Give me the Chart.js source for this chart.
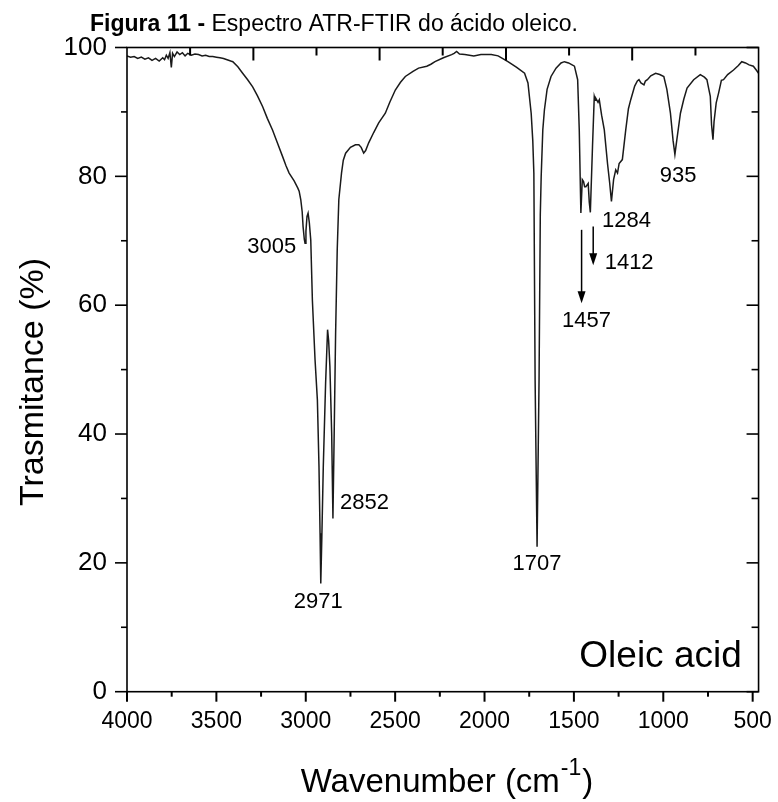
<!DOCTYPE html>
<html>
<head>
<meta charset="utf-8">
<script src="https://cdn.jsdelivr.net/npm/chart.js@4.4.1/dist/chart.umd.min.js"></script>
<style>
    html, body { margin: 0; padding: 0; background: #fff; }
    #wrap { width: 778px; height: 802px; }
</style>
</head>
<body>
<div id="wrap"><canvas id="ftir" width="778" height="802"></canvas></div>
<script>
// Spectrum (cm-1 / %T)
const wavenumbers = [
    4000, 3980, 3960, 3940, 3920, 3900, 3880, 3860, 3840, 3820, 3800, 3790, 3780, 3770, 3760, 3752, 3745, 3735,
    3720, 3705, 3690, 3675, 3660, 3640, 3620, 3600, 3580, 3560, 3540, 3520, 3500, 3480, 3460, 3440, 3420, 3408,
    3380, 3353, 3325, 3297, 3270, 3241, 3215, 3186, 3160, 3130, 3110, 3093, 3065, 3045, 3037, 3028, 3020, 3015,
    3008, 3004, 2999, 2993, 2987, 2980, 2972, 2963, 2948, 2935, 2926, 2920, 2916, 2910, 2902, 2889, 2878, 2872,
    2865, 2855, 2848, 2841, 2833, 2824, 2815, 2800, 2790, 2777, 2750, 2722, 2703, 2690, 2676, 2665, 2648, 2620,
    2592, 2555, 2530, 2499, 2470, 2443, 2400, 2369, 2323, 2300, 2277, 2230, 2184, 2170, 2156, 2140, 2110, 2060,
    2020, 1962, 1924, 1900, 1869, 1820, 1776, 1757, 1739, 1730, 1724, 1717, 1706, 1695, 1688, 1683, 1674, 1665,
    1650, 1628, 1600, 1572, 1553, 1530, 1510, 1497, 1479, 1470, 1461, 1453, 1446, 1440, 1433, 1420, 1414, 1408,
    1396, 1386, 1380, 1377, 1365, 1358, 1345, 1330, 1312, 1300, 1290, 1278, 1266, 1256, 1247, 1229, 1210, 1195,
    1182, 1160, 1145, 1136, 1125, 1108, 1100, 1089, 1070, 1043, 1020, 997, 980, 960, 945, 935, 925, 904,
    885, 867, 830, 793, 770, 756, 745, 737, 730, 722, 716, 704, 690, 675, 663, 640, 607, 580,
    561, 540, 520, 496, 480, 467
];
const transmittance = [
    98.7, 98.5, 98.6, 98.3, 98.5, 98.2, 98.4, 98.0, 98.3, 97.9, 98.4, 98.1, 98.8, 98.3, 99.2, 96.9, 99.1, 98.6,
    99.3, 98.9, 99.2, 98.7, 99.1, 98.8, 99.0, 98.9, 98.7, 98.8, 98.6, 98.6, 98.5, 98.4, 98.3, 98.1, 97.9, 97.8,
    97.0, 96.0, 95.0, 93.9, 92.5, 90.8, 89.0, 87.2, 85.3, 83.1, 81.6, 80.5, 79.3, 78.2, 77.7, 76.4, 74.5, 72.2,
    70.2, 69.6, 71.5, 73.8, 74.3, 72.8, 70.1, 60.8, 51.5, 45.3, 34.9, 24.6, 16.8, 24.0, 34.9, 47.9, 56.2, 54.5,
    50.5, 40.1, 26.9, 40.1, 55.7, 68.6, 76.4, 80.5, 82.5, 83.6, 84.5, 84.9, 84.9, 84.5, 83.6, 84.0, 85.2, 86.8,
    88.3, 89.8, 91.5, 93.4, 94.6, 95.5, 96.3, 96.8, 97.1, 97.4, 97.8, 98.4, 98.9, 99.1, 99.4, 99.0, 98.9, 98.7,
    98.9, 98.9, 98.7, 98.3, 97.8, 96.9, 96.0, 94.5, 89.8, 85.5, 80.5, 48.4, 22.5, 48.4, 74.0, 80.0, 87.2, 90.3,
    93.5, 95.5, 96.8, 97.6, 97.8, 97.6, 97.3, 97.1, 95.0, 87.2, 74.3, 79.5, 79.2, 78.4, 78.4, 78.9, 76.0, 74.4,
    84.6, 92.4, 91.8, 92.1, 91.5, 91.9, 89.5, 87.2, 82.0, 79.0, 76.1, 79.5, 81.0, 80.5, 82.0, 82.6, 87.2, 90.5,
    91.9, 94.0, 94.8, 95.0, 94.5, 94.2, 94.8, 95.0, 95.6, 96.0, 95.8, 95.5, 93.5, 89.8, 85.5, 83.4, 85.5, 89.8,
    92.0, 93.7, 95.0, 95.8, 95.4, 95.0, 93.5, 92.4, 88.0, 85.7, 88.5, 91.4, 93.0, 94.9, 95.0, 95.8, 96.5, 97.2,
    97.8, 97.6, 97.3, 97.1, 96.5, 96.0
];

// Axes
const xTicks = [4000, 3750, 3500, 3250, 3000, 2750, 2500, 2250, 2000, 1750, 1500, 1250, 1000, 750, 500];
const xTickLabels = [4000, 3500, 3000, 2500, 2000, 1500, 1000, 500];
const yTicks = [0, 10, 20, 30, 40, 50, 60, 70, 80, 90, 100];
const yTickLabels = [0, 20, 40, 60, 80, 100];
// inward ticks on the top frame (not on the 500 grid in the original)
const topTicksLong = [3293, 2587, 1880, 1174];
const topTicksShort = [3647, 2940, 2234, 1527, 820];

// Peak annotations (text centre, in data units)
const peakNames = ['3005', '2971', '2852', '1707', '1457', '1412', '1284', '935'];
const peakX = [3190, 2930, 2671, 1706, 1429, 1191, 1206, 917];
const peakY = [69.1, 14.0, 29.3, 19.9, 57.5, 66.5, 73.0, 80.1];

const arrowX = [1457, 1392];
const arrowFrom = [71.7, 72.2];
const arrowTo = [60.3, 66.2];

const FONT = "'Liberation Sans', Arial, sans-serif";

function segment(ctx, x0, y0, x1, y1) {
    ctx.beginPath();
    ctx.moveTo(x0, y0);
    ctx.lineTo(x1, y1);
    ctx.stroke();
}

const decorations = {
    id: 'decorations',
    afterDraw(chart) {
        const ctx = chart.ctx;
        const area = chart.chartArea;
        const x = chart.scales.x;
        const y = chart.scales.y;

        ctx.save();
        ctx.strokeStyle = '#000';
        ctx.fillStyle = '#000';
        ctx.lineWidth = 1.6;
        ctx.strokeRect(area.left, area.top, area.right - area.left, area.bottom - area.top);

        // bottom (outward) and top (inward) ticks
        ctx.lineWidth = 2;
        xTicks.forEach((v) => {
            const px = x.getPixelForValue(v);
            segment(ctx, px, area.bottom, px, area.bottom + (v % 500 === 0 ? 10 : 5));
        });
        topTicksLong.forEach((v) => {
            const px = x.getPixelForValue(v);
            segment(ctx, px, area.top, px, area.top + 13);
        });
        topTicksShort.forEach((v) => {
            const px = x.getPixelForValue(v);
            segment(ctx, px, area.top, px, area.top + 8);
        });
        // left (outward) and right (inward) ticks
        ctx.lineWidth = 1.6;
        yTicks.forEach((v) => {
            const py = y.getPixelForValue(v);
            const major = v % 20 === 0;
            segment(ctx, area.left, py, area.left - (major ? 12 : 6), py);
            segment(ctx, area.right, py, area.right - (major ? 12 : 7), py);
        });

        // title
        ctx.textBaseline = 'alphabetic';
        ctx.textAlign = 'left';
        const boldPart = 'Figura 11 - ';
        const restPart = 'Espectro ATR-FTIR do ácido oleico.';
        ctx.font = 'bold 23px ' + FONT;
        const wBold = ctx.measureText(boldPart).width;
        ctx.font = '23px ' + FONT;
        const wRest = ctx.measureText(restPart).width;
        const tx = 334 - (wBold + wRest) / 2;
        ctx.font = 'bold 23px ' + FONT;
        ctx.fillText(boldPart, tx, 31);
        ctx.font = '23px ' + FONT;
        ctx.fillText(restPart, tx + wBold, 31);

        // y axis title
        ctx.save();
        ctx.translate(43, 382);
        ctx.rotate(-Math.PI / 2);
        ctx.textAlign = 'center';
        ctx.font = '34px ' + FONT;
        ctx.fillText('Trasmitance (%)', 0, 0);
        ctx.restore();

        // x axis title with superscript
        ctx.font = '33px ' + FONT;
        const main = 'Wavenumber (cm';
        const wMain = ctx.measureText(main).width;
        const wClose = ctx.measureText(')').width;
        ctx.font = '23px ' + FONT;
        const wSup = ctx.measureText('-1').width;
        const sx = 446 - (wMain + wSup + wClose) / 2;
        ctx.font = '33px ' + FONT;
        ctx.fillText(main, sx, 792);
        ctx.font = '23px ' + FONT;
        ctx.fillText('-1', sx + wMain + 1, 775);
        ctx.font = '33px ' + FONT;
        ctx.fillText(')', sx + wMain + wSup + 2, 792);

        // peak labels
        ctx.font = '22px ' + FONT;
        ctx.textAlign = 'center';
        ctx.textBaseline = 'middle';
        peakNames.forEach((name, i) => {
            ctx.fillText(name, x.getPixelForValue(peakX[i]), y.getPixelForValue(peakY[i]));
        });

        // arrows
        ctx.lineWidth = 1.5;
        arrowX.forEach((v, i) => {
            const px = x.getPixelForValue(v);
            const y0 = y.getPixelForValue(arrowFrom[i]);
            const y1 = y.getPixelForValue(arrowTo[i]);
            segment(ctx, px, y0, px, y1 - 10);
            ctx.beginPath();
            ctx.moveTo(px - 4, y1 - 12);
            ctx.lineTo(px + 4, y1 - 12);
            ctx.lineTo(px, y1);
            ctx.closePath();
            ctx.fill();
        });

        // sample name
        ctx.font = '37px ' + FONT;
        ctx.textAlign = 'right';
        ctx.textBaseline = 'alphabetic';
        ctx.fillText('Oleic acid', x.getPixelForValue(561), y.getPixelForValue(3.9));

        ctx.restore();
    }
};

new Chart(document.getElementById('ftir'), {
    type: 'line',
    data: {
        datasets: [
            {
                data: wavenumbers.map((w, i) => ({ x: w, y: transmittance[i] })),
                borderColor: '#1a1a1a',
                borderWidth: 1.5,
                pointRadius: 0,
                tension: 0,
                fill: false
            }
        ]
    },
    options: {
        responsive: false,
        animation: false,
        layout: {
            padding: { top: 47.5, right: 16, left: 0, bottom: 0 }
        },
        plugins: {
            legend: { display: false },
            tooltip: { enabled: false }
        },
        scales: {
            x: {
                type: 'linear',
                position: 'bottom',
                min: 467,
                max: 4000,
                reverse: true,
                afterBuildTicks: (s) => {
                    s.ticks = xTickLabels.map((v) => ({ value: v }));
                },
                afterFit: (s) => {
                    s.height = 110.3;
                },
                grid: { display: true, drawOnChartArea: false, drawTicks: true, tickLength: 10, color: 'rgba(0,0,0,0)' },
                border: { display: false },
                ticks: {
                    color: '#000',
                    font: { family: FONT, size: 23 },
                    padding: 6,
                    maxRotation: 0,
                    autoSkip: false,
                    callback: (v) => String(v)
                }
            },
            y: {
                type: 'linear',
                min: 0,
                max: 100,
                afterBuildTicks: (s) => {
                    s.ticks = yTickLabels.map((v) => ({ value: v }));
                },
                afterFit: (s) => {
                    s.width = 127;
                },
                grid: { display: true, drawOnChartArea: false, drawTicks: true, tickLength: 12, color: 'rgba(0,0,0,0)' },
                border: { display: false },
                ticks: {
                    color: '#000',
                    font: { family: FONT, size: 26 },
                    padding: 8,
                    callback: (v) => String(v)
                }
            }
        }
    },
    plugins: [decorations]
});
</script>
</body>
</html>
